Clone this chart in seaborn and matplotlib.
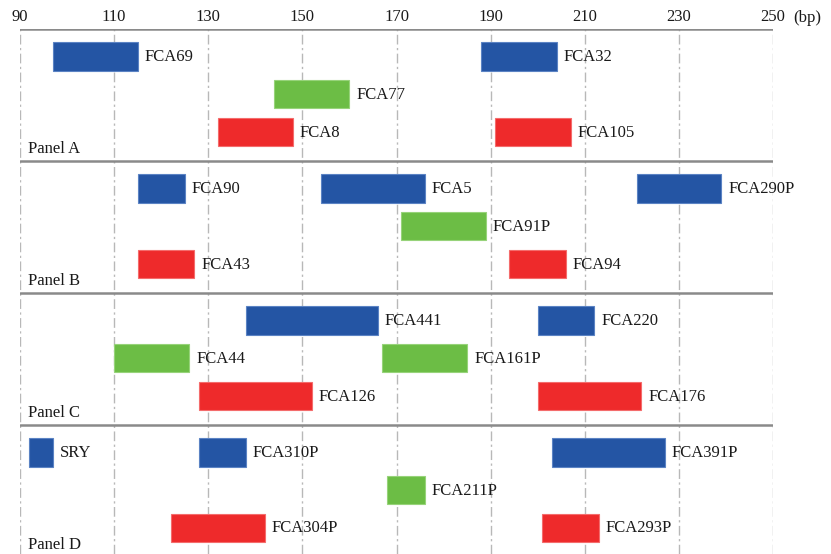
import matplotlib
matplotlib.use("Agg")
import matplotlib.pyplot as plt
import seaborn as sns
import pandas as pd

# Marker sets: allele size ranges (bp) per panel and dye row
panels = ["Panel A", "Panel B", "Panel C", "Panel D"]
dyes = ["blue", "green", "red"]

marker_names = [
    "FCA69", "FCA32", "FCA77", "FCA8", "FCA105",
    "FCA90", "FCA5", "FCA290P", "FCA91P", "FCA43", "FCA94",
    "FCA441", "FCA220", "FCA44", "FCA161P", "FCA126", "FCA176",
    "SRY", "FCA310P", "FCA391P", "FCA211P", "FCA304P", "FCA293P",
]
marker_panel = [0, 0, 0, 0, 0,
                1, 1, 1, 1, 1, 1,
                2, 2, 2, 2, 2, 2,
                3, 3, 3, 3, 3, 3]
marker_dye = ["blue", "blue", "green", "red", "red",
              "blue", "blue", "blue", "green", "red", "red",
              "blue", "blue", "green", "green", "red", "red",
              "blue", "blue", "blue", "green", "red", "red"]
size_min = [97, 188, 144, 132, 191,
            115, 154, 221, 171, 115, 194,
            138, 200, 110, 167, 128, 200,
            92, 128, 203, 168, 122, 201]
size_max = [115, 204, 160, 148, 207,
            125, 176, 239, 189, 127, 206,
            166, 212, 126, 185, 152, 222,
            97, 138, 227, 176, 142, 213]

x_ticks = [90, 110, 130, 150, 170, 190, 210, 230, 250]

dye_colors = {"blue": "#2455a4", "green": "#6cbd45", "red": "#ee2a2b"}
dye_edges = {"blue": "#5b83c4", "green": "#97d37a", "red": "#f46c6c"}

PANEL_H = 3.5
ROW0 = 0.73

df = pd.DataFrame({
    "marker": marker_names,
    "panel": marker_panel,
    "dye": marker_dye,
    "start": size_min,
    "end": size_max,
})
df["length"] = df["end"] - df["start"]
df["row"] = df["panel"] * PANEL_H + ROW0 + df["dye"].map({d: i for i, d in enumerate(dyes)})

sns.set_theme(style="white")
plt.rcParams["font.family"] = ["Liberation Serif", "DejaVu Serif"]

fig = plt.figure(figsize=(8.31, 5.54), dpi=100)
W, H = 831, 554
ax = fig.add_axes([20 / W, 0, (773 - 20) / W, (H - 29) / H])

# vertical dash-dot guides
for t in x_ticks:
    ax.axvline(t, color="#b8b8b8", lw=1.0, dashes=(7, 2.5, 1.6, 2.5), zorder=0)

# panel separators
for p in range(len(panels)):
    ax.axhline(p * PANEL_H, color="#8a8a8a", lw=1.8, zorder=1)

for _, r in df.iterrows():
    sns.barplot(
        data=df.loc[[_]], x="length", y="row", orient="y", native_scale=True,
        width=0.75, errorbar=None, left=r["start"],
        color=dye_colors[r["dye"]], edgecolor=dye_edges[r["dye"]],
        linewidth=0.8, saturation=1, ax=ax, zorder=2,
    )
    ax.annotate(r["marker"], xy=(r["end"], r["row"]), xytext=(5, -0.5),
                textcoords="offset points", va="center", ha="left",
                fontsize=12, color="#1a1a1a", zorder=3)

for p, name in enumerate(panels):
    ax.annotate(name, xy=(90, (p + 1) * PANEL_H - 0.2), xytext=(5.5, 0),
                textcoords="offset points", va="baseline", ha="left",
                fontsize=12, color="#1a1a1a")

ax.set_xlim(90, 250)
ax.set_ylim((H - 29) / 37.7, 0)
ax.xaxis.tick_top()
ax.set_xticks(x_ticks)
ax.set_xticklabels([str(t) for t in x_ticks], fontsize=12, color="#1a1a1a")
ax.tick_params(axis="x", length=0, pad=3)
ax.set_yticks([])
ax.set_xlabel("")
ax.set_ylabel("")
for s in ax.spines.values():
    s.set_visible(False)

fig.text(793 / W, 1 - 18.5 / H, "(bp)", fontsize=12, va="center", ha="left",
         color="#1a1a1a")

fig.savefig("out.png", dpi=100)
